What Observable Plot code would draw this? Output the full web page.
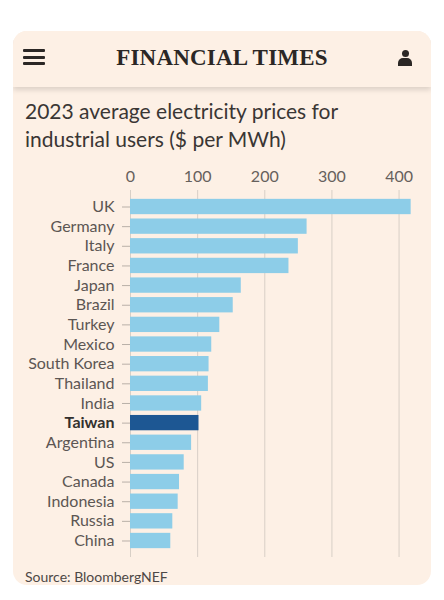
<!DOCTYPE html>
<html>
<head>
<meta charset="utf-8">
<script src="https://cdn.jsdelivr.net/npm/d3@7"></script>
<script src="https://cdn.jsdelivr.net/npm/@observablehq/plot@0.6"></script>
<style>
  html, body { margin: 0; padding: 0; background: #ffffff; width: 444px; height: 600px; overflow: hidden; }
  #card { position: absolute; left: 13px; top: 31px; width: 418px; height: 554px; background: #fdf0e5; border-radius: 14px; overflow: hidden; font-family: Lato, sans-serif; }
  #header { position: absolute; left: 0; top: 0; width: 418px; height: 56px; background: #fdf0e5; box-shadow: 0 3px 5px rgba(0,0,0,0.13); z-index: 2; }
  #ft { position: absolute; left: 0; width: 418px; top: 14px; text-align: center; font-family: "Liberation Serif", serif; font-weight: bold; font-size: 23px; color: #2b2725; letter-spacing: 0.2px; }
  .bar { position: absolute; left: 10px; width: 22px; height: 3px; background: #2b2725; border-radius: 1px; }
  #head { position: absolute; left: 388.5px; top: 18.5px; width: 7px; height: 7px; border-radius: 50%; background: #2b2725; }
  #body { position: absolute; left: 385px; top: 27px; width: 14px; height: 8px; border-radius: 5px 5px 0 0; background: #2b2725; }
  #title { position: absolute; left: 12px; top: 66px; font-size: 21px; line-height: 28px; color: #3a3634; }
  #chart { position: absolute; left: 0; top: 129px; }
  #source { position: absolute; left: 12px; top: 537px; font-size: 14px; color: #4d4845; }
</style>
</head>
<body>
<div id="card">
  <div id="header">
    <div class="bar" style="top:18px"></div>
    <div class="bar" style="top:24.5px"></div>
    <div class="bar" style="top:31px"></div>
    <div id="ft">FINANCIAL TIMES</div>
    <div id="head"></div>
    <div id="body"></div>
  </div>
  <div id="title">2023 average electricity prices for<br>industrial users ($ per MWh)</div>
  <div id="chart"></div>
  <div id="source">Source: BloombergNEF</div>
</div>
<script>
const countries = ["UK","Germany","Italy","France","Japan","Brazil","Turkey","Mexico","South Korea","Thailand","India","Taiwan","Argentina","US","Canada","Indonesia","Russia","China"];
const prices = [418, 263, 250, 236, 165, 153, 133, 121, 117, 116, 106, 102, 91, 80, 73, 71, 63, 60];
const xTicks = [0, 100, 200, 300, 400];
const highlight = "Taiwan";

const data = countries.map((c, i) => ({country: c, price: prices[i]}));

const chart = Plot.plot({
  width: 418,
  height: 400,
  marginLeft: 117,
  marginRight: 19,
  marginTop: 30,
  marginBottom: 3,
  style: {background: "transparent", fontFamily: "Lato, sans-serif", fontSize: "16px", color: "#66605c"},
  x: {domain: [0, 420], ticks: xTicks, label: null},
  y: {domain: countries, paddingInner: 0.22, paddingOuter: 0.45, round: false, label: null},
  marks: [
    Plot.gridX(xTicks, {stroke: "#d8cfc6", strokeOpacity: 1, strokeWidth: 1}),
    Plot.axisX(xTicks, {anchor: "top", tickSize: 0, tickPadding: 9, fontSize: 16, fill: "#66605c", label: null}),
    Plot.barX(data, {x: "price", y: "country", fill: d => d.country === highlight ? "#1d5793" : "#8dcde8"}),
    Plot.axisY({anchor: "left", tickSize: 8, tickPadding: 8, stroke: "#b9b0a8", fontSize: 16, fill: "#5c5653", label: null})
  ]
});
document.getElementById("chart").appendChild(chart);
// style highlighted label
d3.select(chart).selectAll("g[aria-label='y-axis tick label'] text").each(function() {
  if (this.textContent === highlight) { d3.select(this).attr("font-weight", "bold").attr("fill", "#33302e"); }
});
</script>
</body>
</html>
